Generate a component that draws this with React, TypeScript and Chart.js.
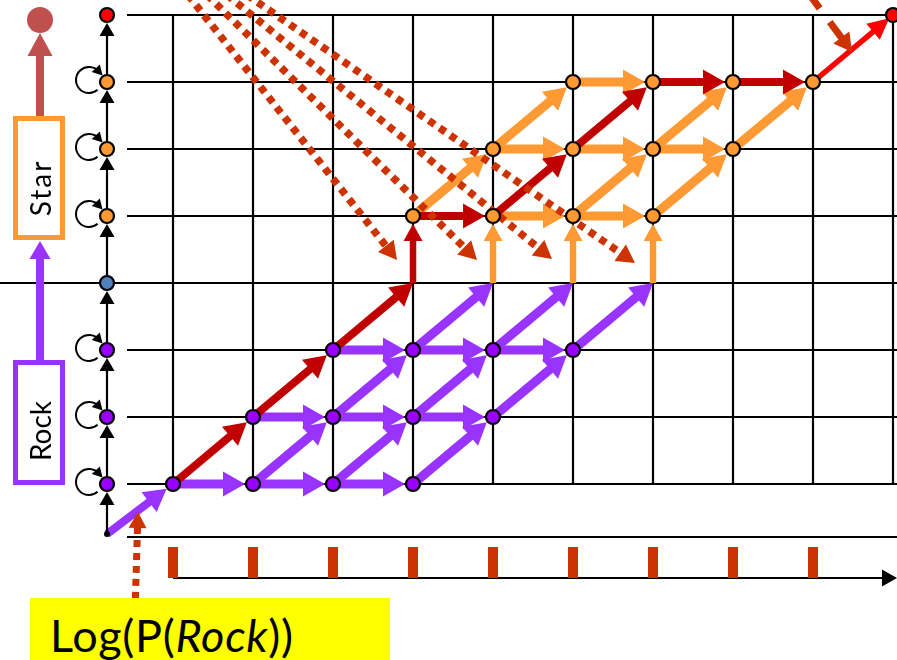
import React, { useEffect, useRef } from "react";
import { Chart, registerables } from "chart.js";

Chart.register(...registerables);

// ---------- view window, in lattice units (column index / row index) ----------
const X_MIN = -2.1625;
const X_MAX = 9.05;
const Y_MIN = -2.627;
const Y_MAX = 7.224;

// ---------- lattice ----------
const COLUMNS = [0, 1, 2, 3, 4, 5, 6, 7, 8, 9];
const ROWS = [0, 1, 2, 3, 4, 5, 6, 7];
const TICK_COLUMNS = [0, 1, 2, 3, 4, 5, 6, 7, 8];
const GRID_LEFT = -0.575;
const FULL_ROW = 3;
const BASE_LINE_Y = -0.791;
const AXIS_Y = -1.403;
const TICK_TOP = -0.94;

// ---------- state chain on the left ----------
const CHAIN_X = -0.825;
const CHAIN_START_Y = -0.746;
const CHAIN_ROWS = [0, 1, 2, 3, 4, 5, 6, 7];
const CHAIN_STATES = ["rock", "rock", "rock", "sep", "star", "star", "star", "end"];
const LOOP_ROWS = [0, 1, 2, 4, 5, 6];

// ---------- lattice nodes [column, row] ----------
const PURPLE_NODES = [
  [0, 0], [1, 0], [2, 0], [3, 0],
  [1, 1], [2, 1], [3, 1], [4, 1],
  [2, 2], [3, 2], [4, 2], [5, 2],
];
const ORANGE_NODES = [
  [3, 4], [4, 4], [5, 4], [6, 4],
  [4, 5], [5, 5], [6, 5], [7, 5],
  [5, 6], [6, 6], [7, 6], [8, 6],
];
const END_NODE = [[9, 7]];

// ---------- transitions [fromCol, fromRow, toCol, toRow] ----------
const PURPLE_EDGES = [
  [0, 0, 1, 0], [1, 0, 2, 0], [2, 0, 3, 0],
  [1, 1, 2, 1], [2, 1, 3, 1], [3, 1, 4, 1],
  [2, 2, 3, 2], [3, 2, 4, 2], [4, 2, 5, 2],
  [1, 0, 2, 1], [2, 0, 3, 1], [3, 0, 4, 1],
  [2, 1, 3, 2], [3, 1, 4, 2], [4, 1, 5, 2],
  [3, 2, 4, 3], [4, 2, 5, 3], [5, 2, 6, 3],
];
const ORANGE_RISES = [[4, 3, 4, 4], [5, 3, 5, 4], [6, 3, 6, 4]];
const ORANGE_EDGES = [
  [4, 4, 5, 4], [5, 4, 6, 4],
  [4, 5, 5, 5], [5, 5, 6, 5], [6, 5, 7, 5],
  [5, 6, 6, 6],
  [3, 4, 4, 5], [5, 4, 6, 5], [6, 4, 7, 5],
  [4, 5, 5, 6], [6, 5, 7, 6], [7, 5, 8, 6],
];
const BEST_PATH = [[0, 0], [1, 1], [2, 2], [3, 3], [3, 4], [4, 4], [5, 5], [6, 6], [7, 6], [8, 6]];
const FINAL_STEP = [[8, 6], [9, 7]];

// ---------- dotted pointers [start, tip] ----------
const POINTER_STARTS = [[0.1875, 7.3], [0.425, 7.3], [0.675, 7.3], [0.925, 7.3]];
const POINTER_TIPS = [[2.8, 3.343], [3.8, 3.343], [4.7375, 3.358], [5.775, 3.299]];
const CORNER_POINTER = [[7.935, 7.34], [8.4875, 6.448]];
const LABEL_POINTER = [[-0.475, -1.91], [-0.4375, -0.418]];

// ---------- legend on the left ----------
const LEGEND_X = -1.6625;
const LEGEND_ROCK_TOP = 1.851;
const LEGEND_STAR_BOTTOM = 3.627;
const LEGEND_STAR_TOP = 5.493;
const LEGEND_END_TIP = 6.731;
const LEGEND_END_Y = 6.925;

// ---------- colours ----------
const PURPLE = "#9933ff";
const PURPLE_NODE = "#9900ff";
const ORANGE = "#ff9933";
const DARK_RED = "#c00000";
const RED = "#ff0000";
const POINTER = "#cc3300";
const BLUE = "#4f81bd";
const BROWN = "#c0504d";
const STATE_COLORS = { rock: PURPLE_NODE, sep: BLUE, star: ORANGE, end: RED };

const NODE_GAP = 8;
const BIG_HEAD = { len: 22, half: 12.5 };
const RISE_HEAD = { len: 17, half: 9.5 };
const nodeKeys = new Set(
  [...PURPLE_NODES, ...ORANGE_NODES, ...END_NODE].map(([x, y]) => x + "," + y)
);
const hasNode = (x, y) => nodeKeys.has(x + "," + y);

function seg(a, b, color, width, order, extra = {}) {
  return {
    data: [a, b],
    showLine: true,
    borderColor: color,
    backgroundColor: color,
    borderWidth: width,
    borderCapStyle: "butt",
    pointRadius: 0,
    pointHoverRadius: 0,
    order,
    ...extra,
  };
}
function arrow(a, b, color, width, head, order, extra = {}) {
  return seg(a, b, color, width, order, { arrow: head, ...extra });
}
const P = (x, y) => ({ x, y });

function arrowGeom(chart, ds) {
  const n = ds.data.length;
  const a = ds.data[n - 2];
  const b = ds.data[n - 1];
  const xs = chart.scales.x;
  const ys = chart.scales.y;
  const x0 = xs.getPixelForValue(a.x);
  const y0 = ys.getPixelForValue(a.y);
  const x1 = xs.getPixelForValue(b.x);
  const y1 = ys.getPixelForValue(b.y);
  const L = Math.hypot(x1 - x0, y1 - y0) || 1;
  const ux = (x1 - x0) / L;
  const uy = (y1 - y0) / L;
  const g = ds.arrow.gap || 0;
  return { tx: x1 - ux * g, ty: y1 - uy * g, ux, uy };
}

const arrowPlugin = {
  id: "arrowHeads",
  beforeDatasetDraw(chart, args) {
    const ds = chart.data.datasets[args.index];
    if (!ds.arrow) return;
    const { tx, ty, ux, uy } = arrowGeom(chart, ds);
    const pts = args.meta.data;
    const last = pts[pts.length - 1];
    const cut = ds.arrow.len * 0.75;
    last.x = tx - ux * cut;
    last.y = ty - uy * cut;
    if (args.meta.dataset) args.meta.dataset._path = undefined;
  },
  afterDatasetDraw(chart, args) {
    const ds = chart.data.datasets[args.index];
    if (!ds.arrow) return;
    const { tx, ty, ux, uy } = arrowGeom(chart, ds);
    const { len, half } = ds.arrow;
    const bx = tx - ux * len;
    const by = ty - uy * len;
    const ctx = chart.ctx;
    ctx.save();
    ctx.fillStyle = ds.borderColor;
    ctx.beginPath();
    ctx.moveTo(tx, ty);
    ctx.lineTo(bx - uy * half, by + ux * half);
    ctx.lineTo(bx + uy * half, by - ux * half);
    ctx.closePath();
    ctx.fill();
    ctx.restore();
  },
};

const loopPlugin = {
  id: "selfLoops",
  beforeDatasetsDraw(chart) {
    const ctx = chart.ctx;
    const xs = chart.scales.x;
    const ys = chart.scales.y;
    ctx.save();
    ctx.strokeStyle = "#000";
    ctx.fillStyle = "#000";
    ctx.lineWidth = 2;
    LOOP_ROWS.forEach((r) => {
      const nx = xs.getPixelForValue(CHAIN_X);
      const ny = ys.getPixelForValue(r);
      const cx = nx - 18;
      const cy = ny - 2;
      const rad = 13;
      const a0 = 0.85;
      const a1 = Math.PI * 2 - 0.75;
      ctx.beginPath();
      ctx.arc(cx, cy, rad, a0, a1, false);
      ctx.stroke();
      const px = cx + rad * Math.cos(a1);
      const py = cy + rad * Math.sin(a1);
      const dx = -Math.sin(a1);
      const dy = Math.cos(a1);
      const tx = px + dx * 6;
      const ty = py + dy * 6;
      const bx = px - dx * 4;
      const by = py - dy * 4;
      ctx.beginPath();
      ctx.moveTo(tx, ty);
      ctx.lineTo(bx - dy * 5.5, by + dx * 5.5);
      ctx.lineTo(bx + dy * 5.5, by - dx * 5.5);
      ctx.closePath();
      ctx.fill();
    });
    ctx.restore();
  },
};

function buildDatasets() {
  const ds = [];
  // grid
  ROWS.forEach((r) =>
    ds.push(seg(P(r === FULL_ROW ? X_MIN : GRID_LEFT, r), P(X_MAX, r), "#000", 2.2, 20))
  );
  COLUMNS.forEach((c) => ds.push(seg(P(c, ROWS[0]), P(c, ROWS[ROWS.length - 1]), "#000", 2.2, 20, { borderCapStyle: "square" })));
  ds.push(seg(P(GRID_LEFT, BASE_LINE_Y), P(X_MAX, BASE_LINE_Y), "#000", 2.2, 20));
  ds.push(arrow(P(COLUMNS[0], AXIS_Y), P(X_MAX, AXIS_Y), "#000", 2.2, { len: 15, half: 8.5, gap: 0 }, 20));
  TICK_COLUMNS.forEach((c) => ds.push(seg(P(c, AXIS_Y), P(c, TICK_TOP), POINTER, 10, 19)));

  // chain arrows
  CHAIN_ROWS.forEach((r, i) => {
    const from = i === 0 ? CHAIN_START_Y : CHAIN_ROWS[i - 1];
    ds.push(arrow(P(CHAIN_X, from), P(CHAIN_X, r), "#000", 2.2, { len: 13, half: 7.5, gap: NODE_GAP }, 6));
  });

  // legend arrows
  ds.push(arrow(P(LEGEND_X, LEGEND_ROCK_TOP), P(LEGEND_X, LEGEND_STAR_BOTTOM), PURPLE, 8, { len: 18, half: 10.5, gap: 0 }, 6));
  ds.push(arrow(P(LEGEND_X, LEGEND_STAR_TOP), P(LEGEND_X, LEGEND_END_TIP), BROWN, 8, { len: 23, half: 12.5, gap: 0 }, 6));

  // purple transitions
  ds.push(arrow(P(CHAIN_X, CHAIN_START_Y), P(0, 0), PURPLE, 8, { ...BIG_HEAD, gap: NODE_GAP }, 6));
  PURPLE_EDGES.forEach(([a, b, c, d]) =>
    ds.push(arrow(P(a, b), P(c, d), PURPLE, 9, { ...BIG_HEAD, gap: hasNode(c, d) ? NODE_GAP : 0 }, 6))
  );
  ORANGE_RISES.forEach(([a, b, c, d]) =>
    ds.push(arrow(P(a, b), P(c, d), ORANGE, 6.5, { ...RISE_HEAD, gap: NODE_GAP }, 6))
  );
  ORANGE_EDGES.forEach(([a, b, c, d]) =>
    ds.push(arrow(P(a, b), P(c, d), ORANGE, 9, { ...BIG_HEAD, gap: hasNode(c, d) ? NODE_GAP : 0 }, 6))
  );
  for (let i = 1; i < BEST_PATH.length; i++) {
    const [a, b] = BEST_PATH[i - 1];
    const [c, d] = BEST_PATH[i];
    const vertical = a === c;
    ds.push(
      arrow(P(a, b), P(c, d), DARK_RED, vertical ? 6.5 : 8,
        vertical ? { ...RISE_HEAD, gap: NODE_GAP } : { ...BIG_HEAD, gap: hasNode(c, d) ? NODE_GAP : 0 }, 4)
    );
  }
  ds.push(arrow(P(FINAL_STEP[0][0], FINAL_STEP[0][1]), P(FINAL_STEP[1][0], FINAL_STEP[1][1]), RED, 5.5, { len: 21, half: 10.5, gap: 5 }, 4));

  // dotted pointers
  POINTER_STARTS.forEach(([x, y], i) =>
    ds.push(arrow(P(x, y), P(POINTER_TIPS[i][0], POINTER_TIPS[i][1]), POINTER, 7.5, { len: 18, half: 10, gap: 0 }, 3, { borderDash: [7, 6] }))
  );
  ds.push(arrow(P(CORNER_POINTER[0][0], CORNER_POINTER[0][1]), P(CORNER_POINTER[1][0], CORNER_POINTER[1][1]), POINTER, 7, { len: 18, half: 10, gap: 0 }, 3, { borderDash: [20, 17] }));
  ds.push(arrow(P(LABEL_POINTER[0][0], LABEL_POINTER[0][1]), P(LABEL_POINTER[1][0], LABEL_POINTER[1][1]), POINTER, 7, { len: 16, half: 9, gap: 0 }, 3, { borderDash: [7, 6] }));

  // nodes
  const nodeStyle = (color) => ({
    showLine: false,
    pointRadius: 7,
    pointHoverRadius: 7,
    pointBorderWidth: 2.2,
    pointBorderColor: "#000",
    pointBackgroundColor: color,
    order: 0,
  });
  ds.push({ data: PURPLE_NODES.map(([x, y]) => P(x, y)), ...nodeStyle(PURPLE_NODE) });
  ds.push({ data: ORANGE_NODES.map(([x, y]) => P(x, y)), ...nodeStyle(ORANGE) });
  ds.push({ data: END_NODE.map(([x, y]) => P(x, y)), ...nodeStyle(RED) });
  ds.push({
    data: CHAIN_ROWS.map((r) => P(CHAIN_X, r)),
    ...nodeStyle("#000"),
    pointBackgroundColor: CHAIN_STATES.map((s) => STATE_COLORS[s]),
  });
  ds.push({ data: [P(CHAIN_X, CHAIN_START_Y)], showLine: false, pointRadius: 3, pointBorderWidth: 0, pointBackgroundColor: "#000", order: 0 });
  ds.push({ data: [P(LEGEND_X, LEGEND_END_Y)], showLine: false, pointRadius: 13, pointBorderWidth: 0, pointBackgroundColor: BROWN, order: 0 });
  return ds;
}

const boxStyle = (left, top, width, height, color) => ({
  position: "absolute",
  left,
  top,
  width,
  height,
  boxSizing: "border-box",
  border: `5px solid ${color}`,
});
const vText = (cx, cy, spacing) => ({
  position: "absolute",
  left: cx,
  top: cy,
  transform: "translate(-50%, -50%) rotate(-90deg)",
  font: "28px Lato, sans-serif",
  letterSpacing: spacing,
  lineHeight: 1,
  whiteSpace: "nowrap",
  color: "#000",
});

export default function App() {
  const ref = useRef(null);
  useEffect(() => {
    const chart = new Chart(ref.current, {
      type: "scatter",
      data: { datasets: buildDatasets() },
      options: {
        animation: false,
        responsive: false,
        events: [],
        layout: { padding: 0, autoPadding: false },
        plugins: { legend: { display: false }, tooltip: { enabled: false }, title: { display: false } },
        scales: {
          x: { type: "linear", min: X_MIN, max: X_MAX, display: false },
          y: { type: "linear", min: Y_MIN, max: Y_MAX, display: false },
        },
      },
      plugins: [arrowPlugin, loopPlugin],
    });
    return () => chart.destroy();
  }, []);

  return (
    <div style={{ position: "absolute", left: 0, top: 0, width: 897, height: 660, overflow: "hidden", background: "#fff" }}>
      <canvas ref={ref} width={897} height={660} style={{ position: "absolute", left: 0, top: 0, display: "block" }} />
      <div style={boxStyle(13, 116, 52, 124, ORANGE)} />
      <div style={vText(40, 188, 2)}>Star</div>
      <div style={boxStyle(13, 360, 52, 125, PURPLE)} />
      <div style={vText(40, 431, 0)}>Rock</div>
      <div style={{ position: "absolute", left: 30, top: 598, width: 360, height: 62, background: "#ffff00", overflow: "hidden" }}>
        <div style={{ position: "absolute", left: 20, top: 15, font: "45px Lato, sans-serif", letterSpacing: 0.7, lineHeight: 1, whiteSpace: "nowrap", color: "#000" }}>
          Log(P(<i>Rock</i>))
        </div>
      </div>
    </div>
  );
}
